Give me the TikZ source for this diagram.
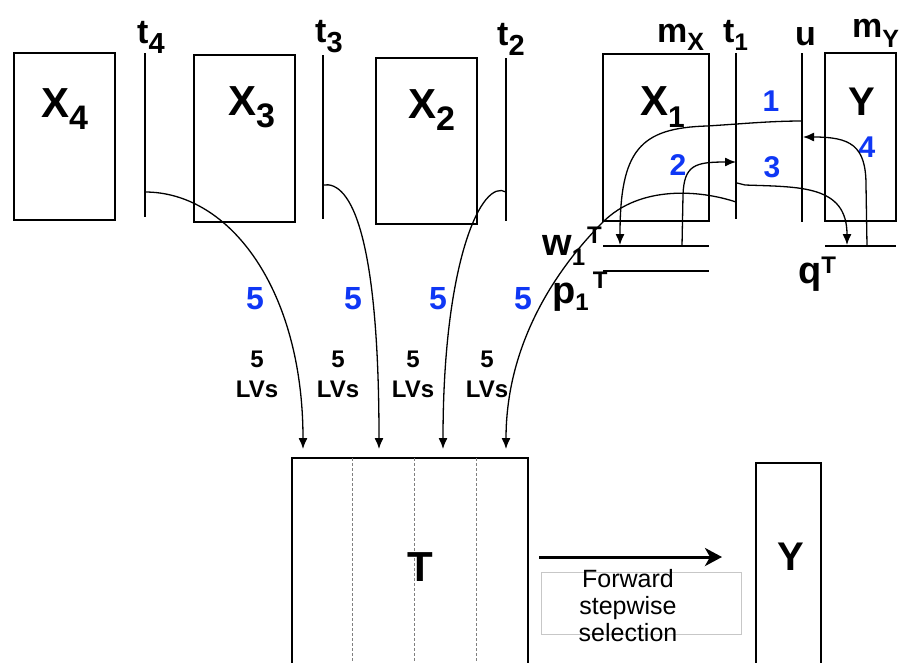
\documentclass[tikz,border=0pt]{standalone}
\usepackage{fontspec}
\setmainfont{Liberation Sans}
\usetikzlibrary{arrows.meta}
\newcommand\fs[1]{\fontsize{#1}{#1}\selectfont}
\definecolor{nblue}{RGB}{15,55,245}
\tikzset{
  boxst/.style={draw, line width=2.2pt, inner sep=0pt},
  tline/.style={line width=1.6pt},
  barst/.style={line width=2.2pt},
  conn/.style={line width=1.3pt, -{Latex[length=11pt,width=9pt]}},
  bnum/.style={text=nblue, font=\bfseries\fs{30}, inner sep=0pt},
  bfive/.style={text=nblue, font=\bfseries\fs{32}, inner sep=0pt},
  lab/.style={font=\bfseries, inner sep=0pt, anchor=base west},
  lvs/.style={font=\bfseries\fs{24}, inner sep=0pt, anchor=base},
  fwd/.style={font=\fs{25}, inner sep=0pt, anchor=base},
}
\begin{document}
\begin{tikzpicture}[x=1pt,y=-1pt]
\clip (0,0) rectangle (904,662);
\fill[white] (0,0) rectangle (904,662);

% boxes
\node[boxst, minimum width=101pt, minimum height=167pt] (X4) at (64.5,136.5) {};
\node[boxst, minimum width=101pt, minimum height=167pt] (X3) at (244.5,138.5) {};
\node[boxst, minimum width=101pt, minimum height=166pt] (X2) at (426.5,141) {};
\node[boxst, minimum width=106pt, minimum height=167pt] (X1) at (656,137.5) {};
\node[boxst, minimum width=71pt, minimum height=168pt] (Yt) at (860.5,137) {};
\node[boxst, minimum width=236pt, minimum height=212pt] (T) at (410,564) {};
\node[boxst, minimum width=65pt, minimum height=207pt] (Yb) at (788.5,566.5) {};

% dashed dividers in T
\coordinate (d1t) at (352,458); \coordinate (d1b) at (352,662);
\coordinate (d2t) at (414,458); \coordinate (d2b) at (414,662);
\coordinate (d3t) at (476,458); \coordinate (d3b) at (476,662);
\draw[gray, line width=0.7pt, dash pattern=on 3pt off 2pt] (d1t) -- (d1b) (d2t) -- (d2b) (d3t) -- (d3b);

% t lines
\coordinate (t4T) at (145,53);  \coordinate (t4B) at (145,217);
\coordinate (t3T) at (323,55);  \coordinate (t3B) at (323,219);
\coordinate (t2T) at (506,58);  \coordinate (t2B) at (506,221);
\coordinate (t1T) at (736,53);  \coordinate (t1B) at (736,219);
\coordinate (uT) at (802,53);   \coordinate (uB) at (802,222);
\draw[tline] (t4T) -- (t4B) (t3T) -- (t3B) (t2T) -- (t2B) (t1T) -- (t1B) (uT) -- (uB);

% bars
\coordinate (wL) at (603,246); \coordinate (wR) at (709,246);
\coordinate (pL) at (603,271); \coordinate (pR) at (709,271);
\coordinate (qL) at (825,246); \coordinate (qR) at (896,246);
\draw[barst] (wL) -- (wR) (pL) -- (pR) (qL) -- (qR);

% box labels
\node[lab] (lX4) at (41,117) {\fs{42}X{\fs{34}\raisebox{-12pt}{4}}};
\node[lab] (lX3) at (228,115) {\fs{42}X{\fs{34}\raisebox{-12pt}{3}}};
\node[lab] (lX2) at (408,118) {\fs{42}X{\fs{34}\raisebox{-12pt}{2}}};
\node[lab] (lX1) at (640,115) {\fs{42}X{\fs{30}\raisebox{-12pt}{1}}};
\node[lab] (lYt) at (848,115) {\fs{40}Y};
\node[bfive, font=\bfseries\fs{42}, text=black] (lT) at (420,567) {T};
\node[bfive, font=\bfseries\fs{40}, text=black] (lYb) at (791,557) {Y};

% top labels
\node[lab] (lt4) at (137,43) {\fs{34}t{\fs{29}\raisebox{-10pt}{4}}};
\node[lab] (lt3) at (315,42) {\fs{34}t{\fs{29}\raisebox{-10pt}{3}}};
\node[lab] (lt2) at (497,45) {\fs{34}t{\fs{29}\raisebox{-10pt}{2}}};
\node[lab] (lmX) at (657,42) {\fs{34}m{\fs{25}\raisebox{-8pt}{X}}};
\node[lab] (lt1) at (723,42) {\fs{34}t{\fs{24}\raisebox{-8pt}{1}}};
\node[lab] (lu) at (795,45) {\fs{34}u};
\node[lab] (lmY) at (852,37) {\fs{34}m{\fs{25}\raisebox{-10pt}{Y}}};

% w, p, q labels
\node[lab] (lw) at (542,255) {\fs{38}w{\fs{24}\raisebox{-10pt}{1}\hspace{2pt}\raisebox{12pt}{T}}};
\node[lab] (lp) at (552,303) {\fs{38}p{\fs{24}\raisebox{-7pt}{1}\hspace{4pt}\raisebox{15pt}{T}}};
\node[lab] (lq) at (798,283) {\fs{38}q{\fs{24}\raisebox{10pt}{T}}};

% blue numbers
\node[bnum] (n1) at (771,101) {1};
\node[bnum] (n2) at (678,165) {2};
\node[bnum] (n3) at (772,167) {3};
\node[bnum] (n4) at (867,147) {4};
\node[bfive] (f1) at (255,299) {5};
\node[bfive] (f2) at (353,299) {5};
\node[bfive] (f3) at (438,299) {5};
\node[bfive] (f4) at (523,299) {5};

% 5 LVs
\node[lvs] (a1) at (257,367) {5}; \node[lvs] (b1) at (257,397) {LVs};
\node[lvs] (a2) at (338,367) {5}; \node[lvs] (b2) at (338,397) {LVs};
\node[lvs] (a3) at (413,367) {5}; \node[lvs] (b3) at (413,397) {LVs};
\node[lvs] (a4) at (487,367) {5}; \node[lvs] (b4) at (487,397) {LVs};

% connector endpoints
\coordinate (uA) at (802,121);  \coordinate (wA) at (620,245);
\coordinate (wB) at (682,246);  \coordinate (t1A) at (736,162);
\coordinate (t1B2) at (737,183); \coordinate (qA) at (847,245);
\coordinate (qB) at (867,246);  \coordinate (uC) at (803,137);
\coordinate (t4s) at (145,192); \coordinate (e1) at (303,449);
\coordinate (t3s) at (323,185); \coordinate (e2) at (379,449);
\coordinate (t2s) at (506,192); \coordinate (e3) at (443,449);
\coordinate (t1s) at (736,202); \coordinate (e4) at (506,449);

% top-right connectors
\draw[conn] (uA) .. controls (770,121) and (740,124) .. (707,126) .. controls (640,128) and (620,150) .. (wA);
\draw[conn] (wB) -- (683,195) .. controls (684,165) and (695,162) .. (t1A);
\draw[conn] (t1B2) -- (745,185) .. controls (800,187) and (847,185) .. (qA);
\draw[conn] (qB) -- (866,185) .. controls (866,145) and (850,137) .. (uC);

% arrows to T
\draw[conn] (t4s) .. controls (230,192) and (303,290) .. (e1);
\draw[conn] (t3s) .. controls (352,180) and (379,240) .. (e2);
\draw[conn] (t2s) .. controls (482,178) and (443,260) .. (e3);
\draw[conn] (t1s) .. controls (700,190) and (640,185) .. (603,222) .. controls (560,265) and (506,340) .. (e4);

% forward stepwise selection
\coordinate (fs) at (539,557); \coordinate (fe) at (722,557);
\draw[line width=3pt, -{Stealth[length=17pt,width=18pt,inset=5pt]}] (fs) -- (fe);
\node[draw=black!22, line width=0.6pt, minimum width=200pt, minimum height=62pt, inner sep=0pt] (fbox) at (641,603) {};
\node[fwd] (ft1) at (628,587) {Forward};
\node[fwd] (ft2) at (628,614) {stepwise};
\node[fwd] (ft3) at (628,641) {selection};
\end{tikzpicture}
\end{document}
